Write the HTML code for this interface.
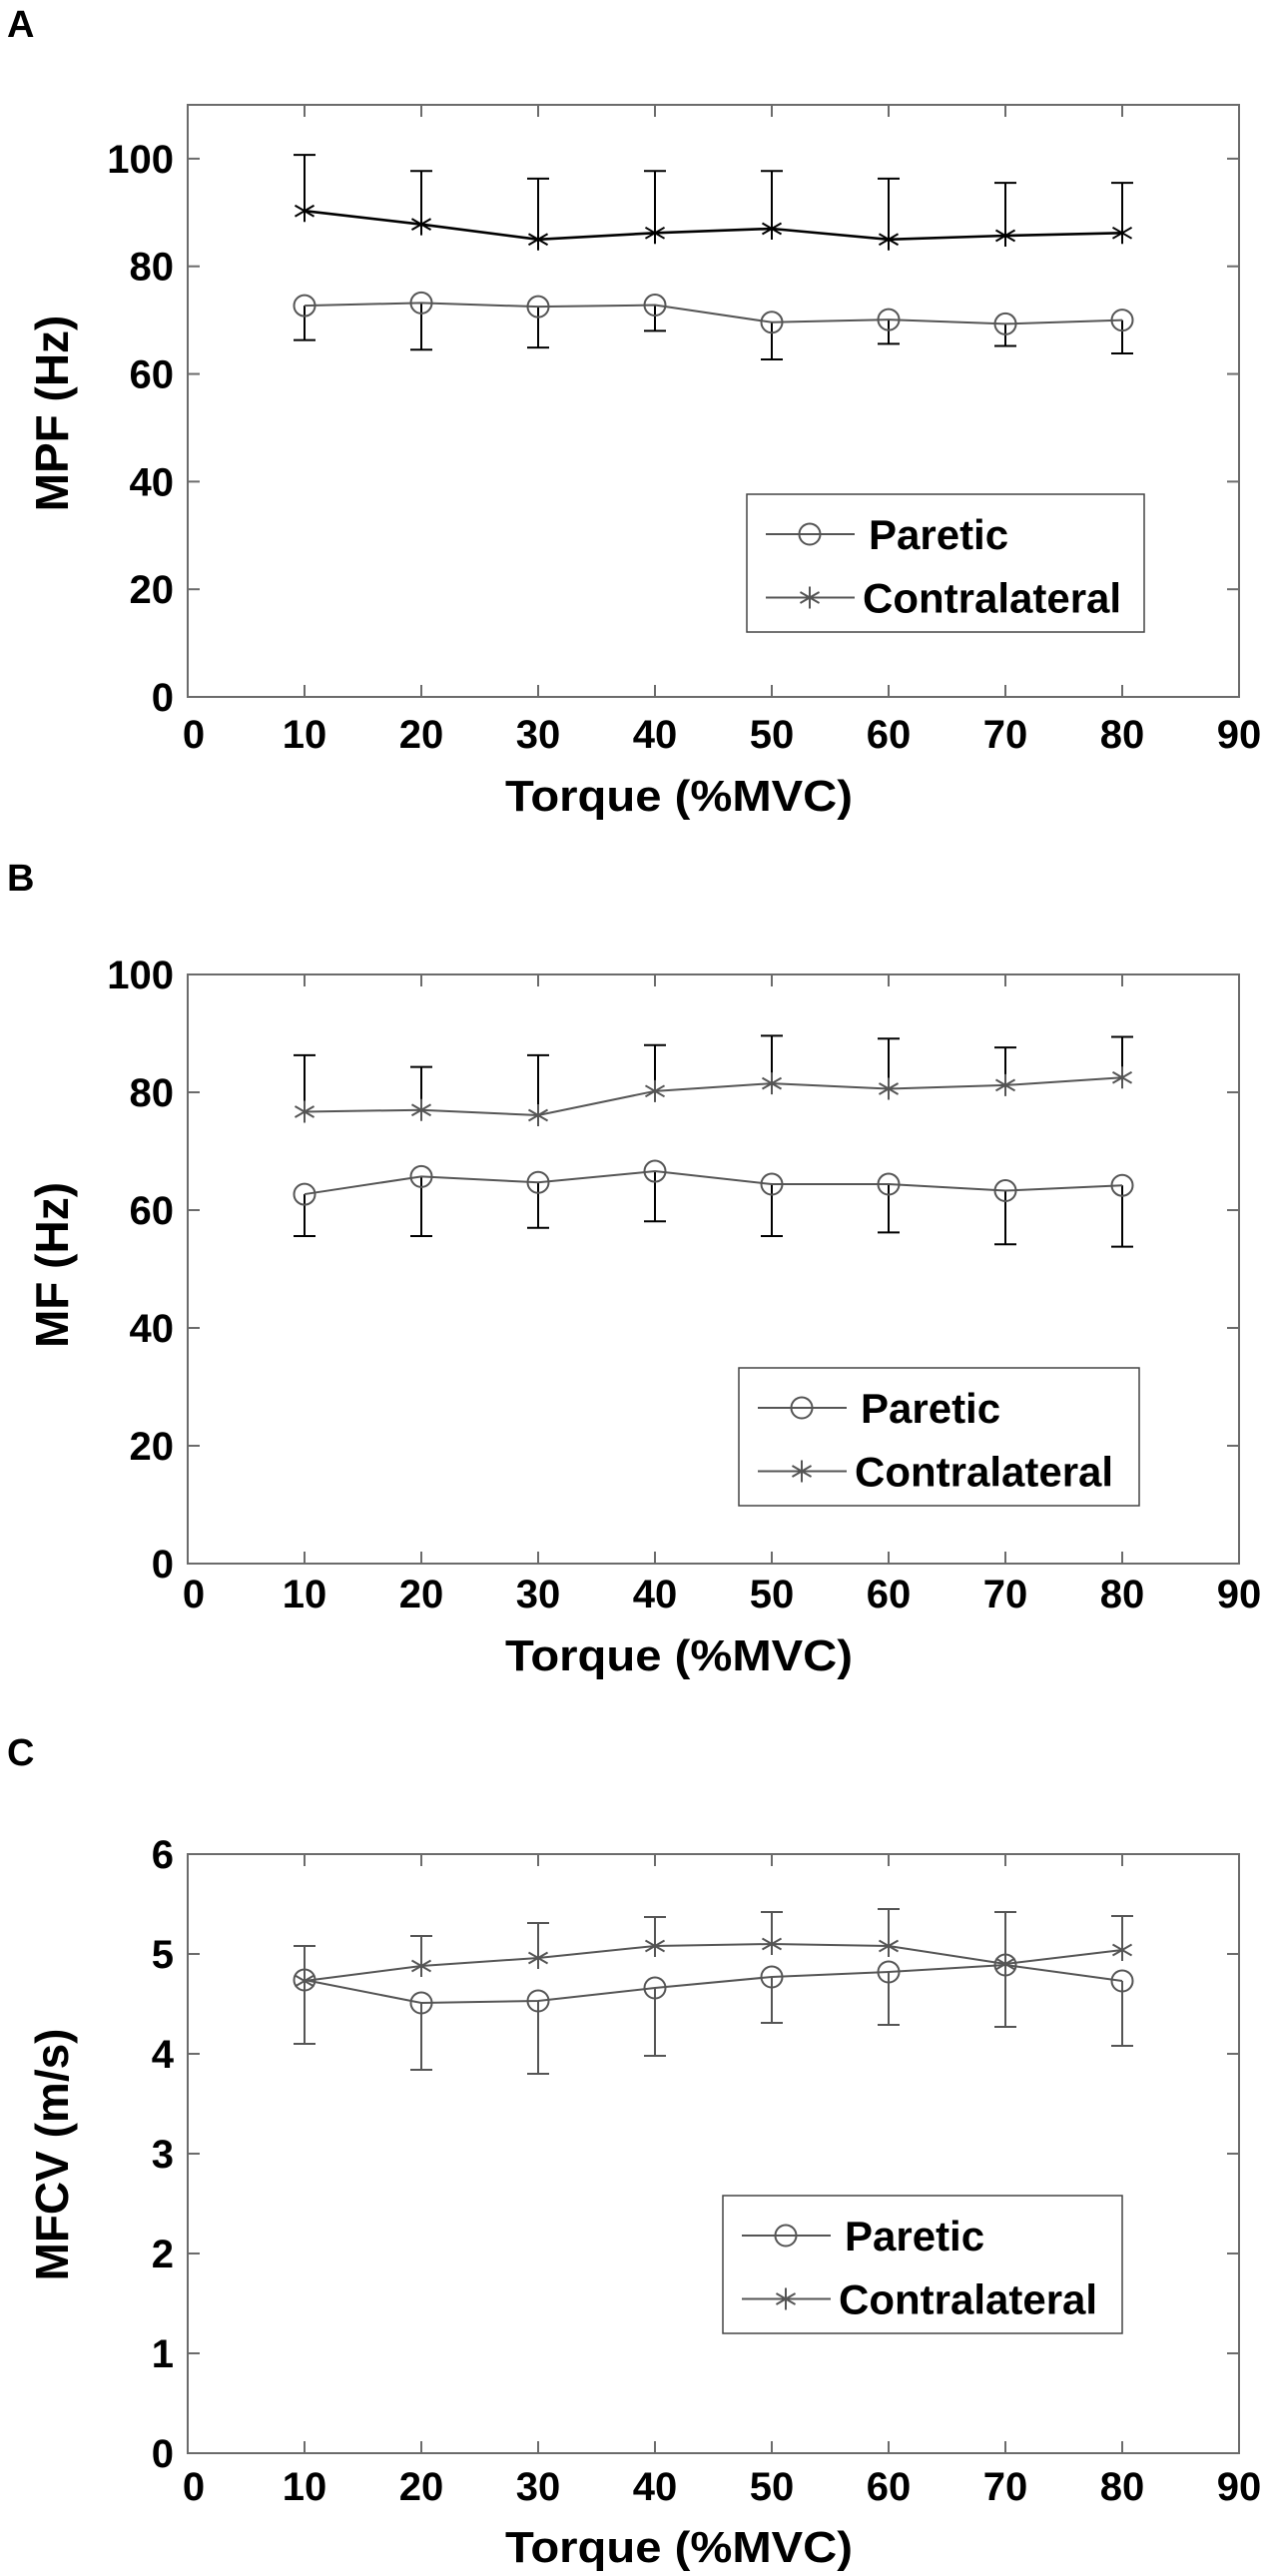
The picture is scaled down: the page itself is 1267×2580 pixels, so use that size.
<!DOCTYPE html>
<html><head><meta charset="utf-8"><style>
html,body{margin:0;padding:0;background:#fff;}
svg{display:block;font-family:"Liberation Sans",sans-serif;font-weight:bold;}
</style></head><body>
<svg id="fig" width="1267" height="2580" viewBox="0 0 1267 2580" xmlns="http://www.w3.org/2000/svg">
<rect width="1267" height="2580" fill="#fff"/>
<text x="7" y="37" font-size="38">A</text>
<text x="7" y="892" font-size="38">B</text>
<text x="7" y="1768" font-size="38">C</text>
</svg>
<script>
const xCats = [10,20,30,40,50,60,70,80];
const xTicks = [0,10,20,30,40,50,60,70,80,90];
// Panel A: MPF
const aParetic = [72.7,73.2,72.5,72.8,69.6,70.1,69.3,70.0];
const aPareticLow = [66.3,64.5,64.9,68.0,62.7,65.6,65.2,63.8];
const aContra = [90.3,87.8,85.0,86.2,87.0,85.0,85.7,86.2];
const aContraHigh = [100.7,97.7,96.3,97.7,97.7,96.3,95.5,95.5];
const aYTicks = [0,20,40,60,80,100];
// Panel B: MF
const bParetic = [62.7,65.7,64.7,66.6,64.4,64.4,63.3,64.2];
const bPareticLow = [55.6,55.6,57.0,58.1,55.6,56.2,54.2,53.8];
const bContra = [76.7,77.0,76.1,80.2,81.5,80.6,81.2,82.5];
const bContraHigh = [86.3,84.3,86.3,88.0,89.6,89.1,87.6,89.4];
const bYTicks = [0,20,40,60,80,100];
// Panel C: MFCV
const cParetic = [4.74,4.51,4.53,4.66,4.77,4.82,4.89,4.73];
const cPareticLow = [4.10,3.84,3.80,3.98,4.31,4.29,4.27,4.08];
const cContra = [4.73,4.88,4.96,5.08,5.10,5.08,4.90,5.04];
const cContraHigh = [5.08,5.18,5.31,5.37,5.42,5.45,5.42,5.38];
const cYTicks = [0,1,2,3,4,5,6];

const NS = "http://www.w3.org/2000/svg";
const svg = document.getElementById('fig');
function mk(tag, attrs, parent){
  const e = document.createElementNS(NS, tag);
  for (const k in attrs) e.setAttribute(k, attrs[k]);
  (parent||svg).appendChild(e);
  return e;
}
function star(g, x, y, r, col, w){
  const p = [];
  for (let i=0;i<3;i++){
    const a = Math.PI/2 + i*Math.PI/3;
    p.push(`M${x+r*Math.cos(a)},${y-r*Math.sin(a)}L${x-r*Math.cos(a)},${y+r*Math.sin(a)}`);
  }
  const s = mk('path',{d:p.join(''),stroke:col,'stroke-width':w,fill:'none'},g);
  
  
}
function circ(g,x,y,r,col){
  const c = mk('circle',{cx:x,cy:y,r:r,fill:'none',stroke:col,'stroke-width':2},g);
  
  
}

function panel(o){
  const g = mk('g',{});
  
  
  const L=188, R=1241, T=o.top, B=o.bottom;
  const sx = v => L + (v-0)/(90-0)*(R-L);
  const sy = v => B - (v-0)/(o.ymax-0)*(B-T);
  // axes box
  const box = mk('rect',{x:L,y:T,width:R-L,height:B-T,fill:'none',stroke:'#6b6b6b','stroke-width':2},g);
  
  
  // x ticks
  xTicks.forEach(v=>{
    const x = sx(v);
    if (v>0 && v<90){
      mk('line',{x1:x,y1:B,x2:x,y2:B-12,stroke:'#6b6b6b','stroke-width':2},g);
      mk('line',{x1:x,y1:T,x2:x,y2:T+12,stroke:'#6b6b6b','stroke-width':2},g);
    }
    const t = mk('text',{x:x+(v===0?6:0),y:o.xLabelY+14,'font-size':40,'text-anchor':'middle',fill:'#000'},g);
    t.textContent = v;
    
    
  });
  o.yTicks.forEach(v=>{
    const y = sy(v);
    if (y>T+1 && y<B-1){
      mk('line',{x1:L,y1:y,x2:L+12,y2:y,stroke:'#6b6b6b','stroke-width':2},g);
      mk('line',{x1:R,y1:y,x2:R-12,y2:y,stroke:'#6b6b6b','stroke-width':2},g);
    }
    const t = mk('text',{x:174,y:y+14,'font-size':40,'text-anchor':'end',fill:'#000'},g);
    t.textContent = v;
    
    
  });
  // axis titles
  const xt = mk('text',{x:680,y:o.xTitleY+16,'font-size':44,'text-anchor':'middle',textLength:348,lengthAdjust:'spacingAndGlyphs'},g);
  xt.textContent = 'Torque (%MVC)';
  
  
  const yt = mk('text',{x:0,y:0,'font-size':46,'text-anchor':'middle',transform:`translate(68,${o.yTitleY}) rotate(-90)`},g);
  yt.textContent = o.ytitle;
  
  
  // error bars
  const cap = 11;
  xCats.forEach((c,i)=>{
    const x = sx(c);
    [[o.contra[i],o.contraHigh[i]],[o.par[i],o.parLow[i]]].forEach(([a,b])=>{
      const eg = mk('g',{stroke:o.errCol,'stroke-width':2},g);
      
      
      mk('line',{x1:x,y1:sy(a),x2:x,y2:sy(b)},eg);
      mk('line',{x1:x-cap,y1:sy(b),x2:x+cap,y2:sy(b)},eg);
    });
  });
  // lines
  const pc = mk('polyline',{points:xCats.map((c,i)=>sx(c)+','+sy(o.contra[i])).join(' '),fill:'none',stroke:o.contraCol,'stroke-width':o.contraW},g);
  
  
  const pp = mk('polyline',{points:xCats.map((c,i)=>sx(c)+','+sy(o.par[i])).join(' '),fill:'none',stroke:'#555','stroke-width':2},g);
  
  
  xCats.forEach((c,i)=>{
    star(g,sx(c),sy(o.contra[i]),11,o.contraCol,2);
    circ(g,sx(c),sy(o.par[i]),10.5,'#555');
  });
  // legend
  const lg = mk('g',{},g);
  
  
  const lx=o.leg[0], ly=o.leg[1], lw=o.leg[2], lh=o.leg[3];
  mk('rect',{x:lx,y:ly,width:lw,height:lh,fill:'#fff',stroke:'#444','stroke-width':1.5},lg);
  const r1 = ly + lh*0.29, r2 = ly + lh*0.75;
  const e1 = mk('g',{},lg);
  
  
  mk('line',{x1:lx+19,y1:r1,x2:lx+108,y2:r1,stroke:'#555','stroke-width':2},e1);
  circ(e1,lx+63,r1,10.5,'#555');
  const t1 = mk('text',{x:lx+122,y:r1+15,'font-size':42},e1); t1.textContent='Paretic';
  const e2 = mk('g',{},lg);
  
  
  mk('line',{x1:lx+19,y1:r2,x2:lx+108,y2:r2,stroke:'#555','stroke-width':2},e2);
  star(e2,lx+63,r2,11,'#555',2);
  const t2 = mk('text',{x:lx+116,y:r2+15,'font-size':42},e2); t2.textContent='Contralateral';
}

panel({name:'panel-a-mpf',top:105,bottom:698,ymax:110,yTicks:aYTicks,ytitle:'MPF (Hz)',
  xLabelY:735,xTitleY:796,yTitleY:414,par:aParetic,parLow:aPareticLow,contra:aContra,contraHigh:aContraHigh,
  errCol:'#000',contraCol:'#000',contraW:2.6,leg:[748,495,398,138]});
panel({name:'panel-b-mf',top:976,bottom:1566,ymax:100,yTicks:bYTicks,ytitle:'MF (Hz)',
  xLabelY:1596,xTitleY:1657,yTitleY:1267,par:bParetic,parLow:bPareticLow,contra:bContra,contraHigh:bContraHigh,
  errCol:'#000',contraCol:'#555',contraW:2,leg:[740,1370,401,138]});
panel({name:'panel-c-mfcv',top:1857,bottom:2457,ymax:6,yTicks:cYTicks,ytitle:'MFCV (m/s)',
  xLabelY:2490,xTitleY:2550,yTitleY:2158,par:cParetic,parLow:cPareticLow,contra:cContra,contraHigh:cContraHigh,
  errCol:'#555',contraCol:'#555',contraW:2,leg:[724,2199,400,138]});
</script>
</body></html>
